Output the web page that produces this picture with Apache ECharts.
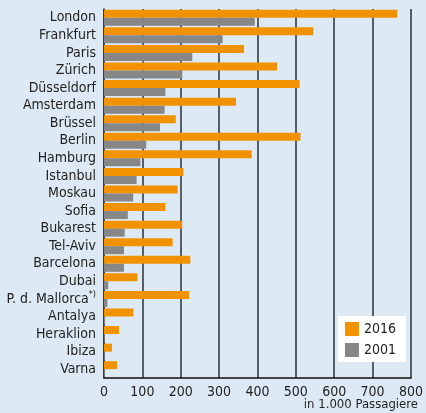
<!DOCTYPE html>
<html>
<head>
<meta charset="utf-8">
<script src="https://cdn.jsdelivr.net/npm/echarts@6/dist/echarts.min.js"></script>
<style>
  html, body { margin: 0; padding: 0; background: #ddeaf5; }
  #chart { width: 426px; height: 413px; }
</style>
</head>
<body>
<div id="chart"></div>
<script>
// Airports, top to bottom
var cities = ['London', 'Frankfurt', 'Paris', 'Zürich', 'Düsseldorf', 'Amsterdam', 'Brüssel',
  'Berlin', 'Hamburg', 'Istanbul', 'Moskau', 'Sofia', 'Bukarest', 'Tel-Aviv', 'Barcelona',
  'Dubai', 'P. d. Mallorca', 'Antalya', 'Heraklion', 'Ibiza', 'Varna'];
// Passengers in thousands
var pax2016 = [764, 545, 365, 451, 510, 344, 187, 512, 385, 207, 192, 160, 204, 179, 225,
  87, 222, 77, 39, 21, 34];
var pax2001 = [393, 309, 230, 204, 160, 158, 146, 110, 95, 85, 76, 62, 54, 52, 52,
  11, 9, 3, 2, 2, 2];
var xTicks = [0, 100, 200, 300, 400, 500, 600, 700, 800];

var fontNarrow = '"Liberation Sans Narrow", "DejaVu Sans Condensed", "Liberation Sans", sans-serif';
var chart = echarts.init(document.getElementById('chart'));

chart.setOption({
  backgroundColor: '#ddeaf5',
  animation: false,
  textStyle: { fontFamily: fontNarrow },
  title: {
    text: 'in 1.000 Passagiere',
    right: 3,
    bottom: -3,
    textStyle: { fontFamily: fontNarrow, fontSize: 13, fontWeight: 'normal', color: '#222' }
  },
  legend: {
    data: ['2016', '2001'],
    orient: 'vertical',
    right: 20,
    bottom: 51,
    backgroundColor: '#ffffff',
    padding: [6, 10, 5, 7],
    itemWidth: 14,
    itemHeight: 14,
    itemGap: 7,
    icon: 'rect',
    textStyle: { fontFamily: fontNarrow, fontSize: 14, color: '#222' }
  },
  grid: { left: 104, right: 8, top: 9, bottom: 35, containLabel: false },
  xAxis: {
    type: 'value',
    min: xTicks[0],
    max: xTicks[xTicks.length - 1],
    interval: 100,
    axisLine: { show: true, lineStyle: { color: '#111', width: 1.5 } },
    axisTick: { show: false },
    axisLabel: { fontFamily: fontNarrow, fontSize: 14, color: '#222', margin: 7 },
    splitLine: { show: true, lineStyle: { color: '#2a2f35', width: 1.5 } }
  },
  yAxis: {
    type: 'category',
    inverse: true,
    data: cities,
    axisLine: { show: true, lineStyle: { color: '#333', width: 1.5 } },
    axisTick: { show: false },
    axisLabel: {
      interval: 0,
      margin: 8,
      fontFamily: fontNarrow,
      fontSize: 14,
      color: '#222',
      formatter: function (v) {
        return v === 'P. d. Mallorca' ? '{n|' + v + '}{s|*)}' : '{n|' + v + '}';
      },
      rich: {
        n: { fontFamily: fontNarrow, fontSize: 14, color: '#222' },
        s: { fontFamily: fontNarrow, fontSize: 9, color: '#222', verticalAlign: 'top', padding: [0, 0, 8, 0] }
      }
    }
  },
  series: [
    {
      name: '2016',
      type: 'bar',
      data: pax2016,
      barGap: '0%',
      barCategoryGap: '9%',
      itemStyle: { color: '#f39200' }
    },
    {
      name: '2001',
      type: 'bar',
      data: pax2001,
      itemStyle: { color: '#878787' }
    }
  ]
});
</script>
</body>
</html>
